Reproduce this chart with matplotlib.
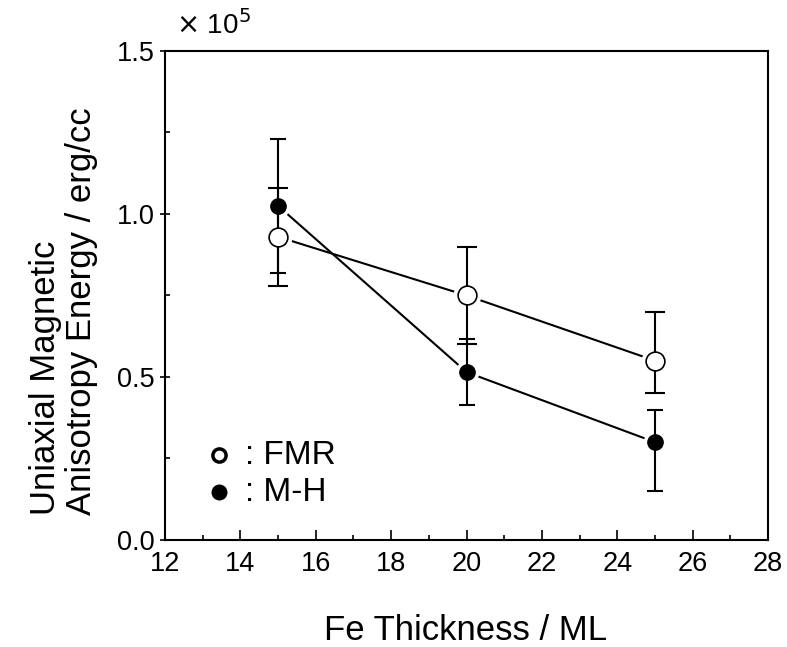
import matplotlib
matplotlib.use("Agg")
import matplotlib.pyplot as plt
from matplotlib.ticker import MultipleLocator, FormatStrFormatter

plt.rcParams['font.family'] = ['Liberation Sans', 'DejaVu Sans']

thickness = [15, 20, 25]
fmr = [0.93, 0.75, 0.55]
fmr_err_low = [0.15, 0.15, 0.10]
fmr_err_high = [0.15, 0.15, 0.15]
mh = [1.025, 0.515, 0.30]
mh_err_low = [0.205, 0.10, 0.15]
mh_err_high = [0.205, 0.10, 0.10]

fig = plt.figure(figsize=(7.87, 6.47), dpi=100)
ax = fig.add_axes([0.2097, 0.1654, 0.7662, 0.7558])

# connecting lines
ax.plot(thickness, fmr, color='black', lw=1.5, zorder=1)
ax.plot(thickness, mh, color='black', lw=1.5, zorder=1)
# white halos to leave gaps between lines and markers
ax.plot(thickness, fmr, ls='none', marker='o', ms=19, mfc='white', mec='white', zorder=2)
ax.plot(thickness, mh, ls='none', marker='o', ms=16, mfc='white', mec='white', zorder=2)
# error bars
ax.errorbar(thickness, fmr, yerr=[fmr_err_low, fmr_err_high], fmt='none', ecolor='black',
            elinewidth=1.5, capsize=7, capthick=1.5, zorder=3)
ax.errorbar(thickness, mh, yerr=[mh_err_low, mh_err_high], fmt='none', ecolor='black',
            elinewidth=1.5, capsize=6, capthick=1.5, zorder=3)
# markers
ax.plot(thickness, fmr, ls='none', marker='o', ms=13.5, mfc='white', mec='black', mew=1.2, zorder=4)
ax.plot(thickness, mh, ls='none', marker='o', ms=11, mfc='black', mec='black', zorder=4)

ax.set_xlim(12, 28)
ax.set_ylim(0, 1.5)
ax.xaxis.set_major_locator(MultipleLocator(2))
ax.xaxis.set_minor_locator(MultipleLocator(1))
ax.yaxis.set_major_locator(MultipleLocator(0.5))
ax.yaxis.set_minor_locator(MultipleLocator(0.25))
ax.yaxis.set_major_formatter(FormatStrFormatter('%.1f'))
ax.tick_params(axis='x', which='major', direction='in', length=7, width=1.2, labelsize=19.5, pad=8)
ax.tick_params(axis='x', which='minor', direction='in', length=3.5, width=1.2)
ax.tick_params(axis='y', which='major', direction='inout', length=7, width=1.2, labelsize=19.5, pad=4)
ax.tick_params(axis='y', which='minor', direction='in', length=3.5, width=1.2)
for s in ax.spines.values():
    s.set_linewidth(1.5)

fig.text(466 / 787, 1 - 640 / 647, 'Fe Thickness / ML', fontsize=25,
         ha='center', va='baseline')
fig.text(98 / 787, 1 - 515 / 647, 'Uniaxial Magnetic\nAnisotropy Energy / erg/cc',
         fontsize=25, rotation=90, ha='right', va='bottom', multialignment='left',
         linespacing=1.12)
fig.text(0.224, 0.962, r'$\times$ 10$^{5}$', fontsize=20, ha='left', va='center')

# legend-like annotation
ax.plot([13.42], [0.26], ls='none', marker='o', ms=9.5, mfc='white', mec='black', mew=2.5)
ax.plot([13.42], [0.147], ls='none', marker='o', ms=10.5, mfc='black', mec='black')
ax.text(14.12, 0.26, ': FMR', fontsize=24, va='center', ha='left')
ax.text(14.12, 0.147, ': M-H', fontsize=24, va='center', ha='left')

fig.savefig('out.png', dpi=100)
